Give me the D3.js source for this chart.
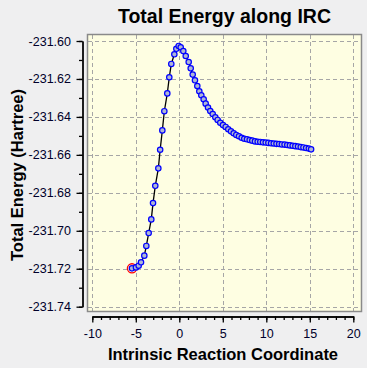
<!DOCTYPE html>
<html>
<head>
<meta charset="utf-8">
<script src="https://cdn.jsdelivr.net/npm/d3@7"></script>
<style>
  html, body { margin: 0; padding: 0; background: #efeff0; }
  svg { display: block; font-family: "Liberation Sans", Arial, sans-serif; }
</style>
</head>
<body>
<svg id="chart" width="367" height="368"></svg>
<script>
// ---- data ----
const ircX = [-5.44, -4.98, -4.67, -4.40, -4.02, -3.79, -3.52, -3.22, -3.02, -2.76,
  -2.41, -2.20, -1.95, -1.72, -1.38, -1.15, -0.92, -0.57, -0.34, -0.07,
  0.16, 0.46, 0.74, 1.08, 1.31, 1.54, 1.80, 2.07, 2.30, 2.53,
  2.80, 3.03, 3.30, 3.56, 3.84, 4.14, 4.41, 4.71, 5.02, 5.33,
  5.63, 5.94, 6.25, 6.55, 6.86, 7.17, 7.47, 7.78, 8.09, 8.39,
  8.70, 9.01, 9.31, 9.62, 9.93, 10.24, 10.55, 10.86, 11.17, 11.48,
  11.79, 12.10, 12.41, 12.72, 13.03, 13.34, 13.65, 13.96, 14.27, 14.58,
  14.89, 15.15];
const energy = [-231.7198, -231.7193, -231.7184, -231.7166, -231.7131, -231.7080, -231.7012, -231.6940, -231.6854, -231.6763,
  -231.6671, -231.6573, -231.6471, -231.6370, -231.6276, -231.6191, -231.6121, -231.6070, -231.6041, -231.6026,
  -231.6033, -231.6053, -231.6079, -231.6111, -231.6144, -231.6177, -231.6207, -231.6237, -231.6265, -231.6286,
  -231.6307, -231.6330, -231.6351, -231.6369, -231.6385, -231.6402, -231.6416, -231.6431, -231.6443, -231.6453,
  -231.6465, -231.6476, -231.6486, -231.6495, -231.6502, -231.6510, -231.6515, -231.6518, -231.6522, -231.6525,
  -231.6529, -231.6531, -231.6532, -231.6534, -231.6535, -231.6537, -231.6539, -231.6540, -231.6542, -231.6543,
  -231.6545, -231.6546, -231.6548, -231.6550, -231.6552, -231.6554, -231.6556, -231.6559, -231.6561, -231.6564,
  -231.6567, -231.6571];
const xTicks = [-10, -5, 0, 5, 10, 15, 20];
const xTickLabels = ["-10", "-5", "0", "5", "10", "15", "20"];
const xMinorTicks = d3.range(-10, 21, 1);
const yTicks = [-231.60, -231.62, -231.64, -231.66, -231.68, -231.70, -231.72, -231.74];
const yTickLabels = ["-231.60", "-231.62", "-231.64", "-231.66", "-231.68", "-231.70", "-231.72", "-231.74"];
const yMinorTicks = [-231.60, -231.61, -231.62, -231.63, -231.64, -231.65, -231.66, -231.67,
  -231.68, -231.69, -231.70, -231.71, -231.72, -231.73, -231.74];
const startIndex = 0; // highlighted (red ring) point

const title = "Total Energy along IRC";
const xTitle = "Intrinsic Reaction Coordinate";
const yTitle = "Total Energy (Hartree)";

// ---- layout ----
const svg = d3.select("#chart");
const box = {left: 87, top: 34, right: 362, bottom: 312};
const x = d3.scaleLinear().domain([-10, 20]).range([92.3, 353.3]);
const y = d3.scaleLinear().domain([-231.74, -231.60]).range([306.7, 41]);
const pts = ircX.map((v, i) => ({x: v, y: energy[i]}));

// plot background
svg.append("rect")
  .attr("x", box.left).attr("y", box.top)
  .attr("width", box.right - box.left).attr("height", box.bottom - box.top)
  .attr("fill", "#fefee2");

// grid
const grid = svg.append("g").attr("stroke", "#a6a6a6").attr("stroke-width", 1)
  .attr("stroke-dasharray", "4,3").attr("shape-rendering", "crispEdges");
grid.selectAll("line.gx").data(xTicks).join("line").attr("class", "gx")
  .attr("x1", d => Math.round(x(d)) + 0.5).attr("x2", d => Math.round(x(d)) + 0.5)
  .attr("y1", box.top + 1).attr("y2", box.bottom - 1);
grid.selectAll("line.gy").data(yTicks).join("line").attr("class", "gy")
  .attr("y1", d => Math.round(y(d)) + 0.5).attr("y2", d => Math.round(y(d)) + 0.5)
  .attr("x1", box.left + 1).attr("x2", box.right - 1);

// frame
svg.append("rect")
  .attr("x", box.left + 0.5).attr("y", box.top + 0.5)
  .attr("width", box.right - box.left - 1).attr("height", box.bottom - box.top - 1)
  .attr("fill", "none").attr("stroke", "#8a8a8a").attr("stroke-width", 1.5);

// y axis
const yAxisX = 82.5;
const yMinor = d3.axisLeft(y).tickValues(yMinorTicks).tickSize(3.5).tickSizeOuter(0).tickFormat("");
const yMajor = d3.axisLeft(y).tickValues(yTicks).tickSize(6).tickSizeOuter(0).tickPadding(5.5)
  .tickFormat((d, i) => yTickLabels[i]);
svg.append("g").attr("transform", `translate(${yAxisX},0)`).call(yMinor);
svg.append("g").attr("transform", `translate(${yAxisX},0)`).call(yMajor);

// x axis
const xAxisY = 316.5;
const xMinor = d3.axisBottom(x).tickValues(xMinorTicks).tickSize(3.5).tickSizeOuter(0).tickFormat("");
const xMajor = d3.axisBottom(x).tickValues(xTicks).tickSize(6).tickSizeOuter(0).tickPadding(7)
  .tickFormat((d, i) => xTickLabels[i]);
svg.append("g").attr("transform", `translate(0,${xAxisY})`).call(xMinor);
svg.append("g").attr("transform", `translate(0,${xAxisY})`).call(xMajor);

svg.selectAll(".domain").attr("stroke", "#000").attr("stroke-width", 1.3);
svg.selectAll(".tick line").attr("stroke", "#000").attr("stroke-width", 1.3);
svg.selectAll(".tick text").attr("font-size", "12.5px").attr("fill", "#00002a")
  .attr("font-family", "'Liberation Sans', Arial, sans-serif");

// line
svg.append("path").datum(pts)
  .attr("fill", "none").attr("stroke", "#000").attr("stroke-width", 1.3)
  .attr("d", d3.line().x(d => x(d.x)).y(d => y(d.y)));

// red ring at start
svg.append("circle")
  .attr("cx", x(pts[startIndex].x)).attr("cy", y(pts[startIndex].y))
  .attr("r", 4.6).attr("fill", "none").attr("stroke", "#ff0000").attr("stroke-width", 1.3);

// markers
svg.append("g").selectAll("circle").data(pts).join("circle")
  .attr("cx", d => x(d.x)).attr("cy", d => y(d.y)).attr("r", 2.7)
  .attr("fill", "#aeb6d4").attr("stroke", "#0000ff").attr("stroke-width", 1.2);

// titles
svg.append("text").attr("x", (box.left + box.right) / 2).attr("y", 23)
  .attr("text-anchor", "middle").attr("font-weight", "bold").attr("font-size", "19.5px")
  .attr("fill", "#000").text(title);
svg.append("text").attr("x", 223).attr("y", 359.5)
  .attr("text-anchor", "middle").attr("font-weight", "bold").attr("font-size", "16.5px")
  .attr("fill", "#000").text(xTitle);
svg.append("text").attr("transform", "translate(22.5,175) rotate(-90)")
  .attr("text-anchor", "middle").attr("font-weight", "bold").attr("font-size", "16.5px")
  .attr("fill", "#000").text(yTitle);
</script>
</body>
</html>
